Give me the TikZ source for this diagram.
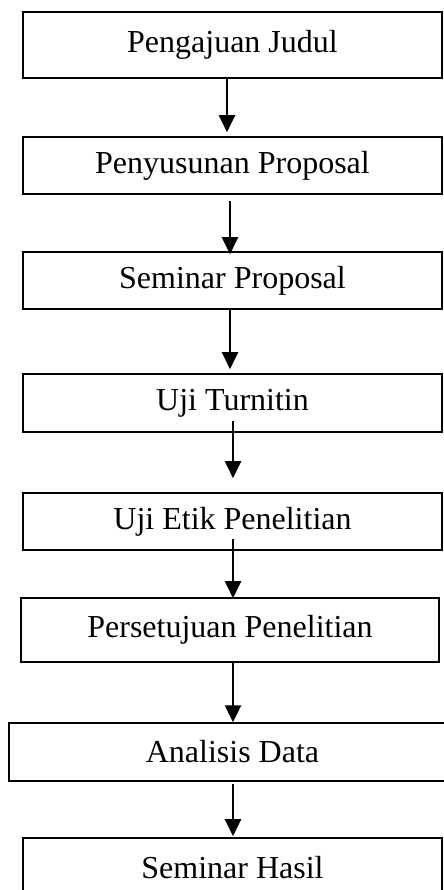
\documentclass[tikz,border=0pt]{standalone}
\usepackage{fontspec}
\setmainfont{Liberation Serif}
\usepackage{tikz}
\usetikzlibrary{arrows.meta,positioning,calc}

\begin{document}
\begin{tikzpicture}[x=0.5pt,y=0.5pt,
    stage/.style={rectangle,draw,line width=0.8pt,inner sep=0pt,
      minimum width=209.5pt,minimum height=28.5pt,
      font=\fontsize{16}{19}\selectfont},
    flow/.style={line width=1.1pt,-{Triangle[length=8.5pt,width=8pt]}}]
      \useasboundingbox (0,0) rectangle (444,-890);
      \clip (0,0) rectangle (444,-890);
      \node[stage,minimum height=33pt] (judul) at (232.5,-45) {Pengajuan Judul};
      \node[stage] (susun) at (232.5,-165.5) {Penyusunan Proposal};
      \node[stage] (sempro) at (232.5,-280.5) {Seminar Proposal};
      \node[stage,minimum height=29pt] (turnitin) at (232.5,-403) {Uji Turnitin};
      \node[stage] (etik) at (232.5,-521.5) {Uji Etik Penelitian};
      \node[stage,minimum height=32pt,minimum width=209pt]
        (setuju) at (230,-630) {Persetujuan Penelitian};
      \node[stage,minimum height=29pt,minimum width=223.5pt,line width=0.7pt]
        (analisis) at (232.5,-752) {Analisis Data};
      \node[stage,minimum height=30pt] (hasil) at (232.5,-868) {Seminar Hasil};
      % arrows between the stages
      \draw[flow] ($(judul.south)+(-5.5,0)$) -- ($(susun.north)+(-5.5,4)$);
      \draw[flow] ($(susun.south)+(-2.5,-6)$) -- ($(sempro.north)+(-2.5,-3)$);
      \draw[flow] ($(sempro.south)+(-2.5,0)$) -- ($(turnitin.north)+(-2.5,4)$);
      \draw[flow] ($(turnitin.south)+(0.5,12)$) -- ($(etik.north)+(0.5,14)$);
      \draw[flow] ($(etik.south)+(0.5,12)$) -- ($(setuju.north)+(3,-1)$);
      \draw[flow] (setuju.south -| analisis.north) ++(0.5,0) -- ($(analisis.north)+(0.5,0)$);
      \draw[flow] ($(analisis.south)+(0.5,-2)$) -- ($(hasil.north)+(0.5,1)$);
    \end{tikzpicture}
\end{document}
